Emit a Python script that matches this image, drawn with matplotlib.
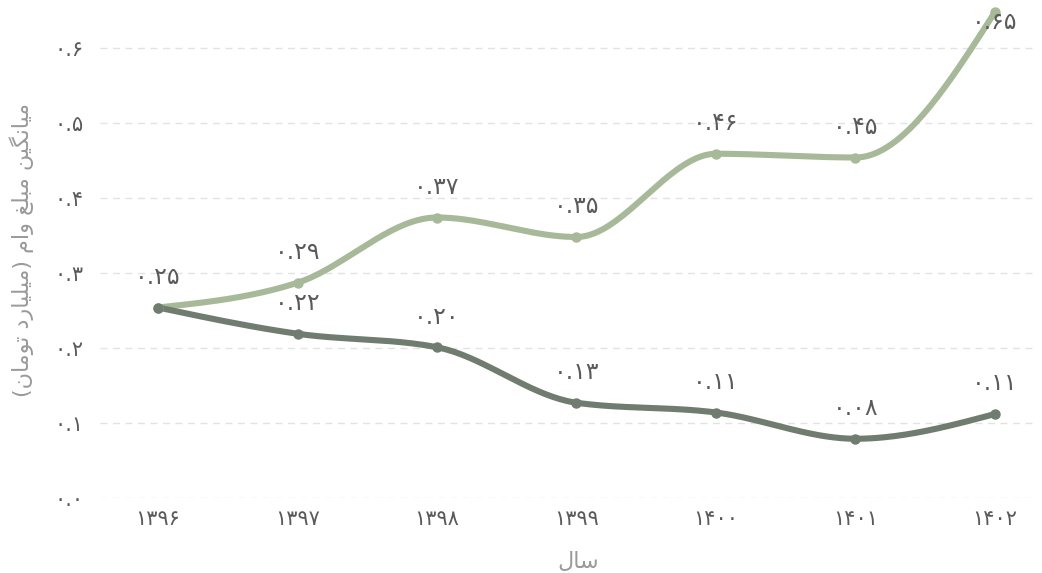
import numpy as np
import matplotlib
matplotlib.use("Agg")
import matplotlib.pyplot as plt

# داده ها
years = [1396, 1397, 1398, 1399, 1400, 1401, 1402]
light_vals = [0.254, 0.287, 0.374, 0.348, 0.459, 0.454, 0.648]
dark_vals = [0.254, 0.219, 0.201, 0.127, 0.114, 0.079, 0.112]
yticks = [0.0, 0.1, 0.2, 0.3, 0.4, 0.5, 0.6]
xlabel = "سال"
ylabel = "میانگین مبلغ وام (میلیارد تومان)"

LIGHT = "#a8b99a"
DARK = "#6f7c6f"
TEXT = "#5a5a5a"
AXLAB = "#9a9a9a"

plt.rcParams['font.family'] = ['DejaVu Sans']

FA_DIGITS = str.maketrans("0123456789", "۰۱۲۳۴۵۶۷۸۹")


def fa(s):
    return str(s).translate(FA_DIGITS)


# شکل دادن ساده به حروف فارسی (matplotlib اتصال حروف را انجام نمی دهد)
FORMS = {
    'ا': ('\uFE8D', '\uFE8E', None, None),
    'ب': ('\uFE8F', '\uFE90', '\uFE91', '\uFE92'),
    'ت': ('\uFE95', '\uFE96', '\uFE97', '\uFE98'),
    'د': ('\uFEA9', '\uFEAA', None, None),
    'ر': ('\uFEAD', '\uFEAE', None, None),
    'س': ('\uFEB1', '\uFEB2', '\uFEB3', '\uFEB4'),
    'غ': ('\uFECD', '\uFECE', '\uFECF', '\uFED0'),
    'ل': ('\uFEDD', '\uFEDE', '\uFEDF', '\uFEE0'),
    'م': ('\uFEE1', '\uFEE2', '\uFEE3', '\uFEE4'),
    'ن': ('\uFEE5', '\uFEE6', '\uFEE7', '\uFEE8'),
    'و': ('\uFEED', '\uFEEE', None, None),
    'ی': ('\uFBFC', '\uFBFD', '\uFBFE', '\uFBFF'),
    'گ': ('\uFB92', '\uFB93', '\uFB94', '\uFB95'),
}


def dual(c):
    return c in FORMS and FORMS[c][2] is not None


def shape(text):
    chars = list(text)
    out = []
    i = 0
    while i < len(chars):
        c = chars[i]
        prev = chars[i - 1] if i > 0 else ''
        nxt = chars[i + 1] if i + 1 < len(chars) else ''
        jp = dual(prev) and c in FORMS
        if c == 'ل' and nxt == 'ا':
            # لام-الف
            out.append('\uFEFC' if jp else '\uFEFB')
            i += 2
            continue
        if c not in FORMS:
            out.append(c)
            i += 1
            continue
        jn = dual(c) and nxt in FORMS
        iso, fin, ini, med = FORMS[c]
        if jp and jn:
            out.append(med)
        elif jp:
            out.append(fin)
        elif jn:
            out.append(ini)
        else:
            out.append(iso)
        i += 1
    vis = ''.join(reversed(out))
    return vis.translate(str.maketrans("()", ")("))


def monotone(x, y, n=40):
    x = np.asarray(x, float)
    y = np.asarray(y, float)
    h = np.diff(x)
    s = np.diff(y) / h
    m = np.zeros(len(x))
    for k in range(1, len(x) - 1):
        p = (s[k - 1] * h[k] + s[k] * h[k - 1]) / (h[k - 1] + h[k])
        m[k] = (np.sign(s[k - 1]) + np.sign(s[k])) * min(abs(s[k - 1]), abs(s[k]), 0.5 * abs(p))
    m[0] = (3 * s[0] - m[1]) / 2
    m[-1] = (3 * s[-1] - m[-2]) / 2
    xs, ys = [], []
    for k in range(len(x) - 1):
        t = np.linspace(0, 1, n)
        h00 = 2 * t**3 - 3 * t**2 + 1
        h10 = t**3 - 2 * t**2 + t
        h01 = -2 * t**3 + 3 * t**2
        h11 = t**3 - t**2
        xs.append(x[k] + t * h[k])
        ys.append(h00 * y[k] + h10 * h[k] * m[k] + h01 * y[k + 1] + h11 * h[k] * m[k + 1])
    return np.concatenate(xs), np.concatenate(ys)


fig = plt.figure(figsize=(10.42, 5.73), dpi=100)
ax = fig.add_axes([100 / 1042, 75 / 573, 935 / 1042, 495 / 573])
ax.set_xlim(1396 - 0.416, 1402 + 0.287)
ax.set_ylim(0, 0.66)

for vals, col in [(light_vals, LIGHT), (dark_vals, DARK)]:
    sx, sy = monotone(years, vals)
    ax.plot(sx, sy, color=col, lw=4.4, solid_capstyle='round', zorder=3)
    ax.plot(years, vals, 'o', color=col, ms=6.5, zorder=4)

# برچسب مقادیر
for vals, skip_first in [(light_vals, False), (dark_vals, True)]:
    for i, (x, v) in enumerate(zip(years, vals)):
        if skip_first and i == 0:
            continue
        dy = 22 if v < 0.6 else -7
        ax.annotate(fa(f"{v:.2f}"), (x, v), xytext=(0, dy), textcoords='offset points',
                    ha='center', va='center', fontsize=17, color=TEXT, zorder=5)

ax.set_yticks(yticks)
ax.set_yticklabels([fa(f"{t:.1f}") for t in yticks], fontsize=15, color=TEXT)
ax.set_xticks(years)
ax.set_xticklabels([fa(y) for y in years], fontsize=15, color=TEXT)
ax.tick_params(axis='y', length=0, pad=12)
ax.tick_params(axis='x', length=0, pad=8)
ax.grid(axis='y', color='#e2e2e2', ls=(0, (5, 4)), lw=1)
ax.set_axisbelow(True)
for sp in ax.spines.values():
    sp.set_visible(False)

fig.text(578 / 1042, 1 - 562 / 573, shape(xlabel), ha='center', va='center', fontsize=16, color=AXLAB)
fig.text(22 / 1042, 1 - 250 / 573, shape(ylabel), ha='center', va='center', rotation=90,
         fontsize=16, color=AXLAB)

fig.savefig("out.png", dpi=100)
